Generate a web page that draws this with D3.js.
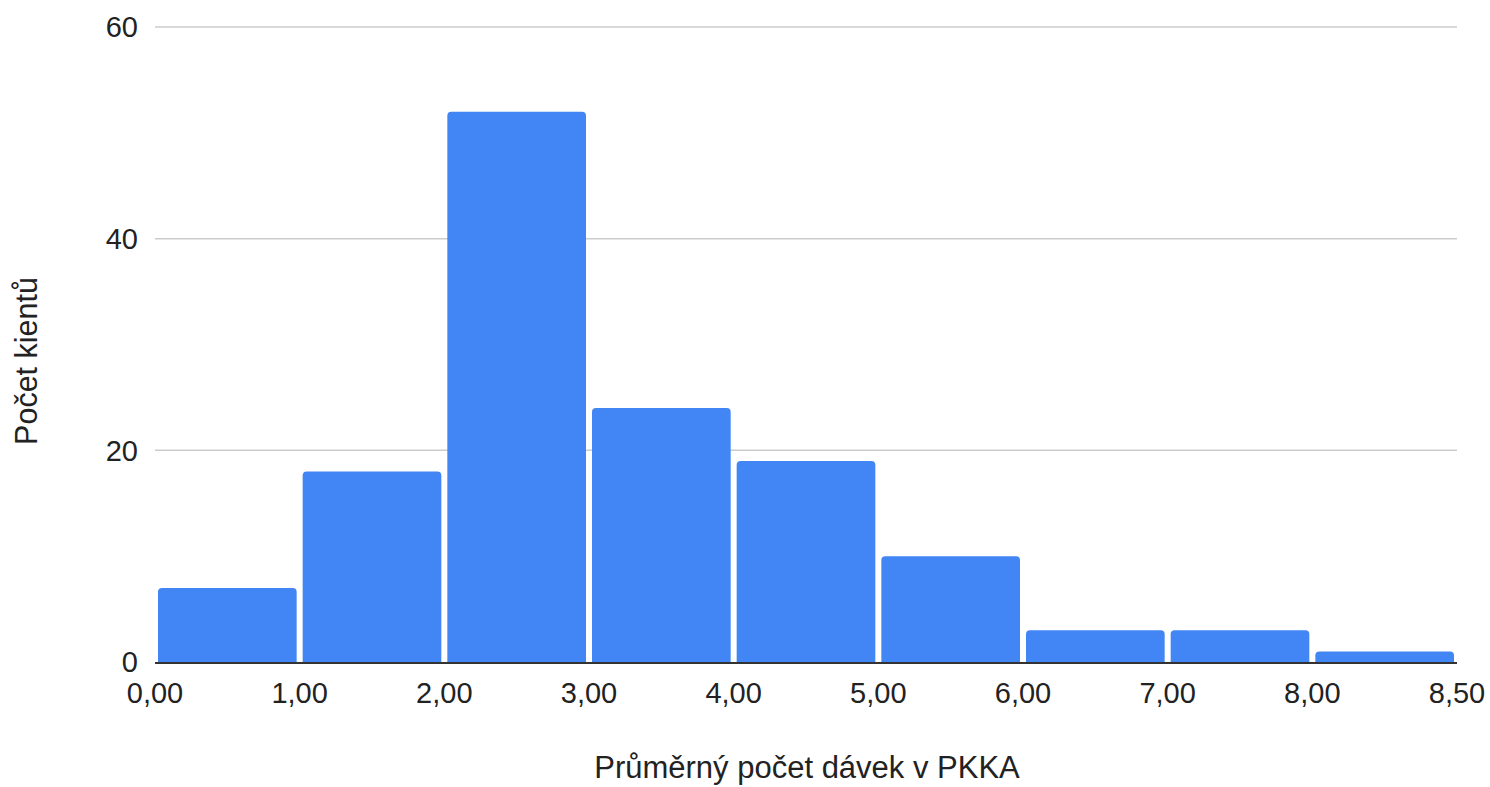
<!DOCTYPE html>
<html>
<head>
<meta charset="utf-8">
<script src="https://cdn.jsdelivr.net/npm/d3@7"></script>
<style>
  html, body { margin: 0; padding: 0; background: #fff; }
  svg { display: block; font-family: "Liberation Sans", Arial, sans-serif; }
</style>
</head>
<body>
<svg id="chart" width="1490" height="787"></svg>
<script>
// Data
const binEdgeLabels = ["0,00", "1,00", "2,00", "3,00", "4,00", "5,00", "6,00", "7,00", "8,00", "8,50"];
const binCounts = [7, 18, 52, 24, 19, 10, 3, 3, 1];
const yTicks = [0, 20, 40, 60];
const xTitle = "Průměrný počet dávek v PKKA";
const yTitle = "Počet kientů";

(function () {
const svg = d3.select("#chart");
const mLeft = 155, mRight = 1457, mTop = 27, mBottom = 662;

const x = d3.scaleLinear().domain([0, binCounts.length]).range([mLeft, mRight]);
const y = d3.scaleLinear().domain([0, 60]).range([mBottom, mTop]);

// gridlines
svg.append("g").selectAll("line").data(yTicks.filter(d => d !== 0)).join("line")
  .attr("x1", mLeft).attr("x2", mRight)
  .attr("y1", d => y(d)).attr("y2", d => y(d))
  .attr("stroke", "#cccccc").attr("stroke-width", 1.5);

// y tick labels
svg.append("g").selectAll("text").data(yTicks).join("text")
  .attr("x", 138).attr("y", d => y(d))
  .attr("dy", "0.36em")
  .attr("text-anchor", "end")
  .attr("font-size", 29).attr("fill", "#222")
  .text(d => d);

// bars with rounded top corners
const gap = 3, r = 4;
function barPath(i, v) {
  const x0 = x(i) + gap, x1 = x(i + 1) - gap;
  const yt = y(v), yb = y(0);
  const rr = Math.min(r, (yb - yt));
  return `M${x0},${yb} L${x0},${yt + rr} Q${x0},${yt} ${x0 + rr},${yt} L${x1 - rr},${yt} Q${x1},${yt} ${x1},${yt + rr} L${x1},${yb} Z`;
}
svg.append("g").selectAll("path").data(binCounts).join("path")
  .attr("d", (d, i) => barPath(i, d))
  .attr("fill", "#4285f4");

// baseline
svg.append("line")
  .attr("x1", mLeft).attr("x2", mRight)
  .attr("y1", y(0) + 1).attr("y2", y(0) + 1)
  .attr("stroke", "#333").attr("stroke-width", 2);

// x tick labels
svg.append("g").selectAll("text").data(binEdgeLabels).join("text")
  .attr("x", (d, i) => x(i)).attr("y", 703)
  .attr("text-anchor", "middle")
  .attr("font-size", 29).attr("fill", "#222")
  .text(d => d);

// axis titles
svg.append("text")
  .attr("x", (mLeft + mRight) / 2 + 1).attr("y", 778)
  .attr("text-anchor", "middle")
  .attr("font-size", 31).attr("fill", "#222")
  .text(xTitle);

svg.append("text")
  .attr("transform", "translate(37,361) rotate(-90)")
  .attr("text-anchor", "middle")
  .attr("font-size", 30.5).attr("fill", "#222")
  .text(yTitle);
})();
</script>
</body>
</html>
